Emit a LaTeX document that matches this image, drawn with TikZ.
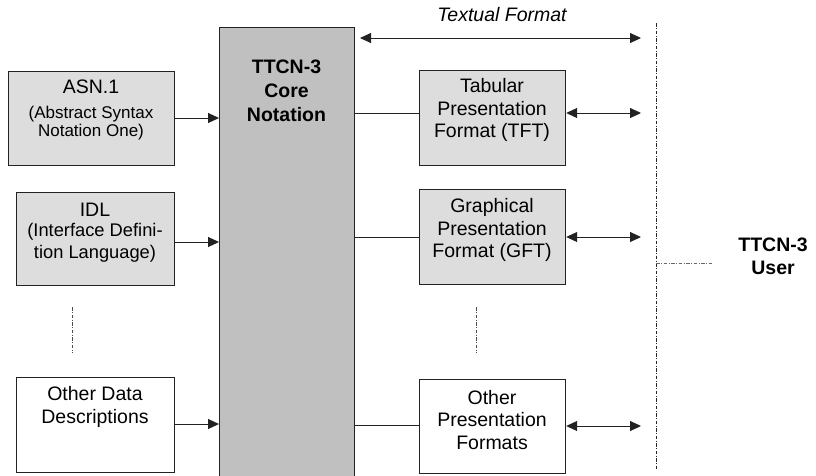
\documentclass[tikz,border=0pt]{standalone}
\usepackage{fontspec}
\setmainfont{Liberation Sans}
\usetikzlibrary{arrows.meta}
\definecolor{boxgray}{HTML}{DDDDDD}
\definecolor{coregray}{HTML}{C0C0C0}
\definecolor{edgegray}{HTML}{222222}
\begin{document}
\begin{tikzpicture}[x=1pt,y=-1pt,
  box/.style={draw=edgegray,line width=1.2pt,inner sep=0pt,anchor=north west},
  grayfill/.style={box,fill=boxgray},
  maintext/.style={align=center,font=\fontsize{19.5}{22.5}\selectfont,inner sep=0pt},
  smalltext/.style={align=center,font=\fontsize{17}{18.5}\selectfont,inner sep=0pt},
  idltext/.style={align=center,font=\fontsize{18.3}{22}\selectfont,inner sep=0pt},
  tip/.style={-{Triangle[length=11pt,width=10pt]},line width=1pt,draw=edgegray},
  dtip/.style={{Triangle[length=11pt,width=10pt]}-{Triangle[length=11pt,width=10pt]},line width=1pt,draw=edgegray},
  plain/.style={line width=1pt,draw=edgegray},
  dashdot/.style={draw=black!85,line width=0.9pt,dash pattern=on 3.5pt off 1.5pt on 1pt off 1.5pt}]
\useasboundingbox (0,0) rectangle (816,475);
% left boxes
\node[grayfill,minimum width=166pt,minimum height=94pt] (asn) at (8,71) {};
\node[grayfill,minimum width=158pt,minimum height=93pt] (idl) at (16,192) {};
\node[box,fill=white,minimum width=158pt,minimum height=95pt] (odd) at (16,377) {};
% core
\node[box,fill=coregray,minimum width=135pt,minimum height=449pt] (core) at (219,27) {};
% right boxes
\node[grayfill,minimum width=146pt,minimum height=95pt] (tft) at (419,70) {};
\node[grayfill,minimum width=146pt,minimum height=95pt] (gft) at (419,189) {};
\node[box,fill=white,minimum width=146pt,minimum height=94pt] (opf) at (419,379) {};
% texts
\node[maintext] (asnA) at (91,87) {ASN.1};
\node[smalltext] (asnB) at (91,123) {(Abstract Syntax\\Notation One)};
\node[maintext] (idlA) at (95,210) {IDL};
\node[idltext] (idlB) at (95,243) {(Interface Defini-\\tion Language)};
\node[maintext] (oddT) at (95,407) {Other Data\\Descriptions};
\node[maintext,font=\bfseries\fontsize{19.5}{24}\selectfont] (coreT) at (286.5,91) {TTCN-3\\Core\\Notation};
\node[maintext] (tftT) at (492,110) {Tabular\\Presentation\\Format (TFT)};
\node[maintext] (gftT) at (492,230) {Graphical\\Presentation\\Format (GFT)};
\node[maintext] (opfT) at (492,420) {Other\\Presentation\\Formats};
\node[maintext,font=\itshape\fontsize{19.5}{22.5}\selectfont] (txtF) at (502,15) {Textual Format};
\node[maintext,font=\bfseries\fontsize{19.5}{23}\selectfont] (user) at (773,256) {TTCN-3\\User};
% user boundary
\coordinate (bTop) at (656,23);
\coordinate (bBot) at (656,470);
\coordinate (uL) at (656,263);
\coordinate (uR) at (712,263);
\draw[dashdot] (bTop) -- (bBot);
\draw[dashdot,draw=black!60] (uL) -- (uR);
% vertical ellipsis marks
\coordinate (l1) at (72,307); \coordinate (l2) at (72,353);
\coordinate (r1) at (476,307); \coordinate (r2) at (476,353);
\draw[dashdot,draw=black!70] (l1) -- (l2);
\draw[dashdot,draw=black!70] (r1) -- (r2);
% inputs
\draw[tip] (asn.east |- 0,118) -- (core.west |- 0,118);
\draw[tip] (idl.east |- 0,242) -- (core.west |- 0,242);
\draw[tip] (odd.east |- 0,424) -- (core.west |- 0,424);
% core to presentations
\draw[plain] (core.east |- 0,113) -- (tft.west |- 0,113);
\draw[plain] (core.east |- 0,237) -- (gft.west |- 0,237);
\draw[plain] (core.east |- 0,425) -- (opf.west |- 0,425);
% to user
\coordinate (e1) at (641,113);
\coordinate (e2) at (641,237);
\coordinate (e3) at (641,426);
\draw[dtip] (tft.east |- e1) -- (e1);
\draw[dtip] (gft.east |- e2) -- (e2);
\draw[dtip] (opf.east |- e3) -- (e3);
% textual format
\coordinate (t1) at (360,38);
\coordinate (t2) at (641,38);
\draw[dtip] (t1) -- (t2);
\end{tikzpicture}
\end{document}
